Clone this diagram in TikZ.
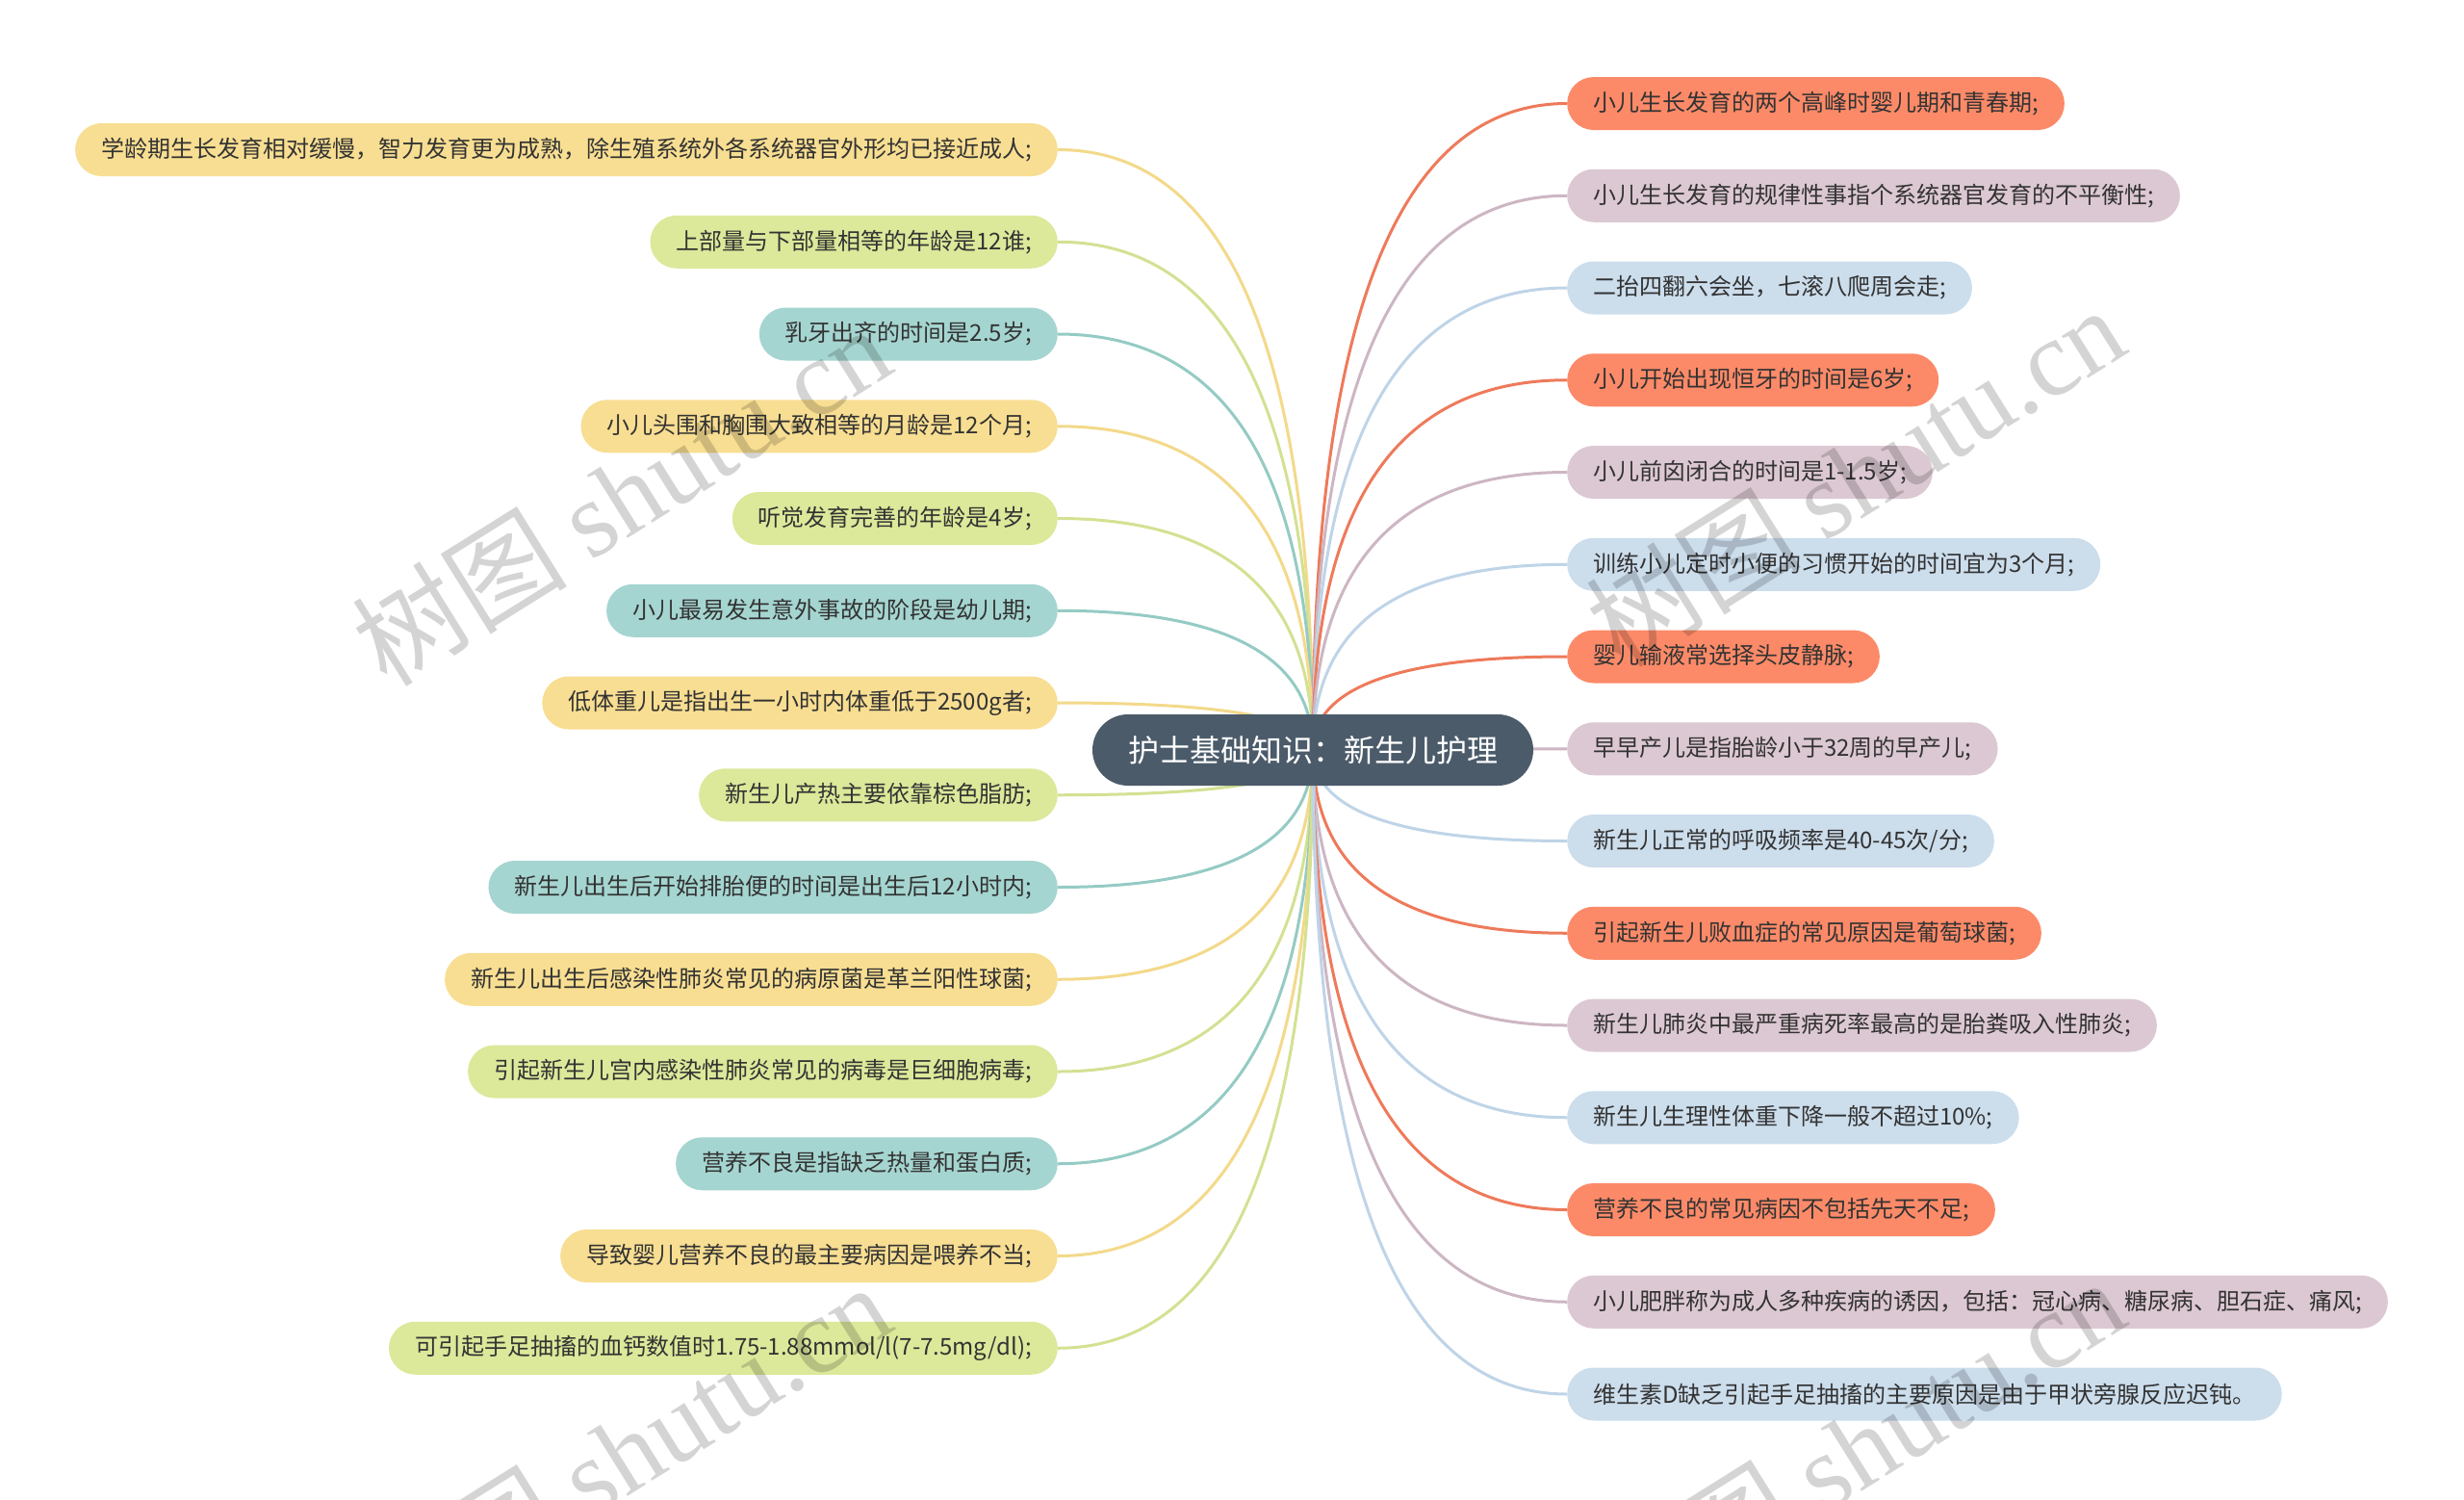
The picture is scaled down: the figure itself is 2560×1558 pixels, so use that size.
\documentclass[tikz,border=0pt]{standalone}
\usepackage{fontspec}
\setmainfont{Noto Sans CJK SC}
\newfontfamily\wmserif{Liberation Serif}
\usetikzlibrary{calc}
\pgfdeclarelayer{bg}
\pgfsetlayers{bg,main}
\definecolor{rootc}{HTML}{4B5B6A}
\definecolor{txt}{HTML}{333333}
\definecolor{fY}{HTML}{F8DE92}
\definecolor{lY}{HTML}{F3D98A}
\definecolor{fG}{HTML}{DCE89A}
\definecolor{lG}{HTML}{D3E192}
\definecolor{fT}{HTML}{A5D5D0}
\definecolor{lT}{HTML}{94CBC4}
\definecolor{fR}{HTML}{FC8A68}
\definecolor{lR}{HTML}{EE7A5B}
\definecolor{fM}{HTML}{DCC8D2}
\definecolor{lM}{HTML}{CDB6C3}
\definecolor{fB}{HTML}{CCDDEC}
\definecolor{lB}{HTML}{BFD4E7}
\tikzset{
  leaf/.style={rounded corners=27.5pt, minimum height=55pt, inner xsep=27pt, inner ysep=0pt,
    font=\fontsize{24pt}{28pt}\selectfont, text=txt},
  lnode/.style={leaf, anchor=east},
  rnode/.style={leaf, anchor=west},
  conn/.style={line width=3pt},
  wm/.style={rotate=32, text=black, text opacity=0.17, font=\fontsize{112pt}{120pt}\selectfont, inner sep=0pt}
}
\newcommand\mmconn[3]{\draw[conn,#1] (root.center) .. controls ($(root.center)!0.667!(root.center |- #2.#3)$) and ($(#2.#3)!0.667!(root.center |- #2.#3)$) .. (#2.#3);}
\begin{document}
\begin{tikzpicture}[x=1pt,y=-1pt]
\begin{pgfonlayer}{bg}
\fill[white] (0,0) rectangle (2560,1558);
\end{pgfonlayer}
\useasboundingbox (0,0) rectangle (2560,1558);

\node[fill=rootc, text=white, rounded corners=37pt, minimum height=74pt, minimum width=458pt,
  inner sep=0pt, font=\fontsize{32pt}{36pt}\selectfont] (root) at (1364,779) {护士基础知识：新生儿护理};

% left nodes
\node[lnode, fill=fY] (L1) at (1099,155.5) {学龄期生长发育相对缓慢，智力发育更为成熟，除生殖系统外各系统器官外形均已接近成人;};
\node[lnode, fill=fG] (L2) at (1099,251.25) {上部量与下部量相等的年龄是12谁;};
\node[lnode, fill=fT] (L3) at (1099,347) {乳牙出齐的时间是2.5岁;};
\node[lnode, fill=fY] (L4) at (1099,442.75) {小儿头围和胸围大致相等的月龄是12个月;};
\node[lnode, fill=fG] (L5) at (1099,538.5) {听觉发育完善的年龄是4岁;};
\node[lnode, fill=fT] (L6) at (1099,634.25) {小儿最易发生意外事故的阶段是幼儿期;};
\node[lnode, fill=fY] (L7) at (1099,730) {低体重儿是指出生一小时内体重低于2500g者;};
\node[lnode, fill=fG] (L8) at (1099,825.75) {新生儿产热主要依靠棕色脂肪;};
\node[lnode, fill=fT] (L9) at (1099,921.5) {新生儿出生后开始排胎便的时间是出生后12小时内;};
\node[lnode, fill=fY] (L10) at (1099,1017.25) {新生儿出生后感染性肺炎常见的病原菌是革兰阳性球菌;};
\node[lnode, fill=fG] (L11) at (1099,1113) {引起新生儿宫内感染性肺炎常见的病毒是巨细胞病毒;};
\node[lnode, fill=fT] (L12) at (1099,1208.75) {营养不良是指缺乏热量和蛋白质;};
\node[lnode, fill=fY] (L13) at (1099,1304.5) {导致婴儿营养不良的最主要病因是喂养不当;};
\node[lnode, fill=fG] (L14) at (1099,1400.25) {可引起手足抽搐的血钙数值时1.75-1.88mmol/l(7-7.5mg/dl);};

% right nodes
\node[rnode, fill=fR] (R1) at (1628,107.5) {小儿生长发育的两个高峰时婴儿期和青春期;};
\node[rnode, fill=fM] (R2) at (1628,203.25) {小儿生长发育的规律性事指个系统器官发育的不平衡性;};
\node[rnode, fill=fB] (R3) at (1628,299) {二抬四翻六会坐，七滚八爬周会走;};
\node[rnode, fill=fR] (R4) at (1628,394.75) {小儿开始出现恒牙的时间是6岁;};
\node[rnode, fill=fM] (R5) at (1628,490.5) {小儿前囟闭合的时间是1-1.5岁;};
\node[rnode, fill=fB] (R6) at (1628,586.25) {训练小儿定时小便的习惯开始的时间宜为3个月;};
\node[rnode, fill=fR] (R7) at (1628,682) {婴儿输液常选择头皮静脉;};
\node[rnode, fill=fM] (R8) at (1628,777.75) {早早产儿是指胎龄小于32周的早产儿;};
\node[rnode, fill=fB] (R9) at (1628,873.5) {新生儿正常的呼吸频率是40-45次/分;};
\node[rnode, fill=fR] (R10) at (1628,969.25) {引起新生儿败血症的常见原因是葡萄球菌;};
\node[rnode, fill=fM] (R11) at (1628,1065) {新生儿肺炎中最严重病死率最高的是胎粪吸入性肺炎;};
\node[rnode, fill=fB] (R12) at (1628,1160.75) {新生儿生理性体重下降一般不超过10\%;};
\node[rnode, fill=fR] (R13) at (1628,1256.5) {营养不良的常见病因不包括先天不足;};
\node[rnode, fill=fM] (R14) at (1628,1352.25) {小儿肥胖称为成人多种疾病的诱因，包括：冠心病、糖尿病、胆石症、痛风;};
\node[rnode, fill=fB] (R15) at (1628,1448) {维生素D缺乏引起手足抽搐的主要原因是由于甲状旁腺反应迟钝。};

\begin{pgfonlayer}{bg}
\mmconn{lY}{L1}{east}
\mmconn{lG}{L2}{east}
\mmconn{lT}{L3}{east}
\mmconn{lY}{L4}{east}
\mmconn{lG}{L5}{east}
\mmconn{lT}{L6}{east}
\mmconn{lY}{L7}{east}
\mmconn{lG}{L8}{east}
\mmconn{lT}{L9}{east}
\mmconn{lY}{L10}{east}
\mmconn{lG}{L11}{east}
\mmconn{lT}{L12}{east}
\mmconn{lY}{L13}{east}
\mmconn{lG}{L14}{east}
\mmconn{lR}{R1}{west}
\mmconn{lM}{R2}{west}
\mmconn{lB}{R3}{west}
\mmconn{lR}{R4}{west}
\mmconn{lM}{R5}{west}
\mmconn{lB}{R6}{west}
\mmconn{lR}{R7}{west}
\mmconn{lM}{R8}{west}
\mmconn{lB}{R9}{west}
\mmconn{lR}{R10}{west}
\mmconn{lM}{R11}{west}
\mmconn{lB}{R12}{west}
\mmconn{lR}{R13}{west}
\mmconn{lM}{R14}{west}
\mmconn{lB}{R15}{west}
\end{pgfonlayer}

% watermarks
\node[wm] (wm1) at (645,514) {树图 {\wmserif shutu.cn}};
\node[wm] (wm2) at (1927,494) {树图 {\wmserif shutu.cn}};
\node[wm] (wm3) at (645,1509) {树图 {\wmserif shutu.cn}};
\node[wm] (wm4) at (1927,1504) {树图 {\wmserif shutu.cn}};
\end{tikzpicture}
\end{document}
